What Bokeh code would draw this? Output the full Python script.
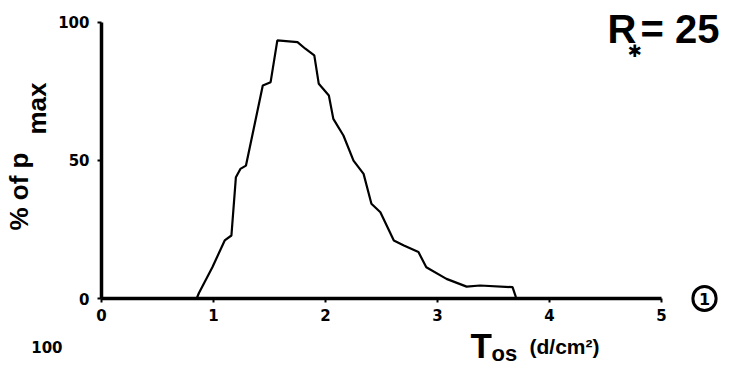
import numpy as np
from bokeh.plotting import figure
from bokeh.models import FixedTicker, Label
from bokeh.embed import file_html
from bokeh.resources import INLINE

# data
t_os = [0.85, 0.87, 0.99, 1.10, 1.16, 1.20, 1.24, 1.29, 1.44, 1.51, 1.57, 1.75, 1.82, 1.90,
        1.94, 2.03, 2.07, 2.16, 2.25, 2.34, 2.41, 2.49, 2.61, 2.70, 2.83, 2.90, 3.08, 3.26,
        3.38, 3.67, 3.70]
pct_pmax = [0, 2, 11.3, 21, 22.8, 43.9, 46.9, 48.1, 77.1, 78.3, 93.4, 92.8, 90.4, 88,
            77.7, 73.5, 65, 59, 49.9, 45.1, 34.3, 31.2, 21, 19.2, 16.8, 11.3, 7.1, 4.3,
            4.7, 4.1, 0.5]
x_ticks = [0, 1, 2, 3, 4, 5]
y_ticks = [0, 50, 100]

FONT = "Liberation Sans"

W, H = 720, 368
px_x = 112.0                   # pixels per unit of T_os
px_y = 2.763                   # pixels per percent
X0, Y0 = 101, 298              # picture position of the origin


def X(px):
    return (px - X0) / px_x


def Y(py):
    return (Y0 - py) / px_y


p = figure(width=W, height=H, output_backend="svg", toolbar_location=None,
           x_range=(X(0), X(W)), y_range=(Y(H), Y(0)),
           min_border=0, min_border_left=0, min_border_right=0, min_border_top=0,
           min_border_bottom=0, background_fill_color="white",
           border_fill_color="white", outline_line_color=None)
p.grid.visible = False

for ax, ticks, b in ((p.xaxis[0], x_ticks, (0, 5)), (p.yaxis[0], y_ticks, (0, 100))):
    ax.fixed_location = 0
    ax.ticker = FixedTicker(ticks=ticks)
    ax.bounds = b
    ax.axis_line_width = 3.5
    ax.axis_line_color = "black"
    ax.major_tick_line_width = 2
    ax.major_tick_out = 4
    ax.major_tick_in = 0
    ax.minor_tick_line_color = None
    ax.major_label_text_font = "DejaVu Sans"
    ax.major_label_text_font_style = "bold"
    ax.major_label_text_font_size = "15px"
    ax.major_label_text_color = "black"
p.xaxis.major_label_standoff = 6
p.yaxis.major_label_standoff = 8

p.line(t_os, pct_pmax, line_color="black", line_width=2.2)


def lab(text, x, y, size, font=FONT, angle=0.0, align="left", **kw):
    # (x, y) = start of the text and its vertical middle, in picture pixels
    p.add_layout(Label(x=X(x), y=Y(y), text=text, text_font=font,
                       text_font_size=f"{size}px", text_font_style="bold",
                       text_color="black", angle=angle, text_align=align,
                       text_baseline="middle", **kw))


# y-axis title (rotated)
lab("% of   p", 18, 230, 26, angle=np.pi / 2)
lab("max", 36, 134, 26, angle=np.pi / 2)

# x-axis title
lab("T", 470, 345, 35)
lab("os", 491, 353, 22)
lab("(d/cm²)", 529, 346, 21)

# panel annotation
lab("R", 607, 28, 40)
lab("✱", 627, 50, 17, font="DejaVu Sans")
lab("= 25", 640, 28, 40)

# panel number
p.add_layout(Label(x=X(704), y=Y(298), text="1", text_font="DejaVu Sans",
                   text_font_size="16px", text_font_style="bold", text_color="black",
                   text_align="center", text_baseline="middle",
                   border_line_color="black", border_line_width=3,
                   border_radius=14, padding=6))

# start of the next panel
lab("100", 62, 346, 15, font="DejaVu Sans", align="right")

open("out.html", "w").write(file_html(p, INLINE))
